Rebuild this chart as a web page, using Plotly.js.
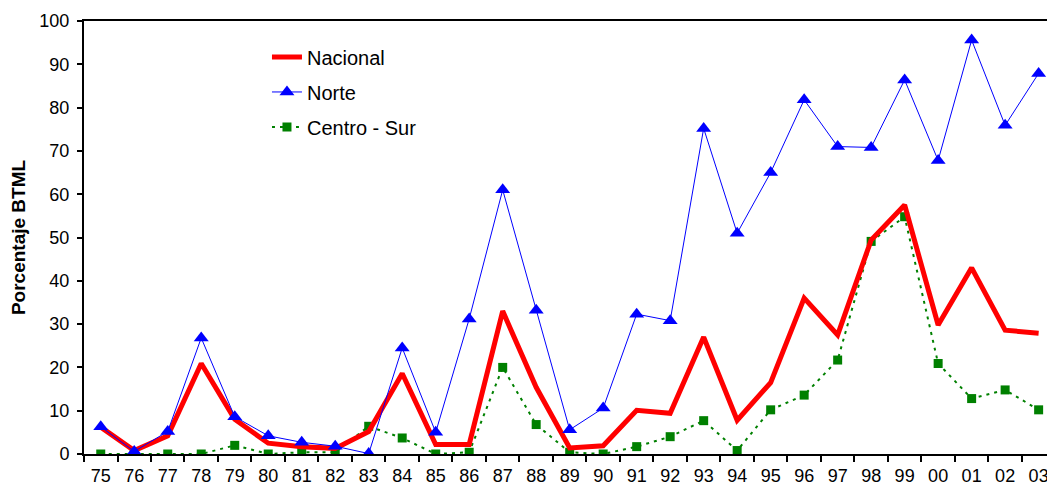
<!DOCTYPE html>
<html>
<head>
<meta charset="utf-8">
<script src="https://cdn.plot.ly/plotly-3.0.1.min.js"></script>
<style>
  html, body { margin: 0; padding: 0; background: #fff; overflow: hidden; }
  #chart { width: 1047px; height: 490px; }
</style>
</head>
<body>
<div id="chart"></div>
<script>
// Years (tick labels)
const years = ["75","76","77","78","79","80","81","82","83","84","85","86","87","88","89",
               "90","91","92","93","94","95","96","97","98","99","00","01","02","03"];

// Percentage BTML per series
const nacional = [6.2, 0.8, 4.2, 20.9, 8.0, 2.5, 1.7, 1.3, 5.2, 18.6, 2.2, 2.2, 33.0, 15.4, 1.4,
                  1.9, 10.1, 9.4, 27.0, 7.8, 16.5, 36.0, 27.5, 49.4, 57.5, 29.8, 43.0, 28.6, 27.9];
const norte = [6.3, 0.6, 5.2, 26.8, 8.6, 4.2, 2.7, 1.8, 0.1, 24.5, 5.0, 31.2, 61.0, 33.2, 5.6,
               10.6, 32.3, 30.8, 75.2, 51.0, 65.0, 81.8, 71.0, 70.8, 86.4, 67.8, 95.6, 75.9, 87.9];
const centroSur = [0, 0, 0, 0, 2.0, 0, 0.4, 0.4, 6.4, 3.7, 0, 0.4, 20.0, 6.8, 0.4,
                   0, 1.7, 4.0, 7.7, 0.8, 10.2, 13.6, 21.7, 49.1, 54.8, 20.9, 12.8, 14.8, 10.2];

const seriesNames = ["Nacional", "Norte", "Centro - Sur"];

const font = "Liberation Sans, Arial, sans-serif";
const n = years.length;
const xr = [-0.5, n - 0.75];
const boundaries = Array.from({length: n}, (_, i) => i - 0.5);
const centers = Array.from({length: n}, (_, i) => i);

const trNacional = {
  x: years, y: nacional, name: seriesNames[0], type: "scatter", mode: "lines",
  line: {color: "#FF0000", width: 5}, legendgroup: "a", legendrank: 1
};
const trNorte = {
  x: years, y: norte, name: seriesNames[1], type: "scatter", mode: "lines+markers",
  line: {color: "#0000FF", width: 1},
  marker: {symbol: "triangle-up", size: 13, color: "#0000FF"}, legendgroup: "b", legendrank: 2
};
const trCentro = {
  x: years, y: centroSur, name: seriesNames[2], type: "scatter", mode: "lines+markers",
  line: {color: "#008000", width: 2, dash: "3px,5px"},
  marker: {symbol: "square", size: 9, color: "#008000"}, legendgroup: "c", legendrank: 3
};
// draw order: Centro-Sur under Nacional under Norte (as in source)
const data = [trCentro, trNacional, trNorte];

const layout = {
  width: 1047, height: 490,
  margin: {l: 84, r: 0, t: 21, b: 36, pad: 0},
  paper_bgcolor: "#fff", plot_bgcolor: "#fff",
  font: {family: font, size: 18, color: "#000"},
  showlegend: true,
  legend: {
    x: 0.19, y: 0.962, xanchor: "left", yanchor: "top",
    bgcolor: "rgba(0,0,0,0)", borderwidth: 0,
    font: {family: font, size: 20, color: "#000"},
    traceorder: "grouped", tracegroupgap: 6
  },
  xaxis: {
    type: "category", categoryorder: "array", categoryarray: years,
    range: xr, tickson: "boundaries",
    showline: true, linecolor: "#000", linewidth: 2, mirror: true,
    ticks: "outside", ticklen: 6, tickwidth: 2, tickcolor: "#000",
    showgrid: false, zeroline: false,
    tickfont: {family: font, size: 18, color: "#000"},
    ticklabelstandoff: 4
  },
  xaxis2: {
    overlaying: "x", anchor: "y", range: xr, type: "linear",
    tickmode: "array", tickvals: boundaries, ticks: "inside", ticklen: 6, tickwidth: 2,
    tickcolor: "#000", showticklabels: false, showgrid: false, zeroline: false, showline: false
  },
  xaxis3: {
    overlaying: "x", anchor: "y", range: xr, type: "linear",
    tickmode: "array", tickvals: centers, ticks: "inside", ticklen: 4, tickwidth: 2,
    tickcolor: "#000", showticklabels: false, showgrid: false, zeroline: false, showline: false
  },
  yaxis: {
    range: [0, 100], dtick: 10, tick0: 0,
    showline: true, linecolor: "#000", linewidth: 2,
    ticks: "outside", ticklen: 5, tickwidth: 2, tickcolor: "#000",
    showgrid: false, zeroline: false,
    tickfont: {family: font, size: 18, color: "#000"},
    ticklabelstandoff: 4,
    title: {text: "<b>Porcentaje BTML</b>", font: {family: font, size: 19, color: "#000"}, standoff: 9}
  },
  yaxis2: {
    overlaying: "y", anchor: "x", side: "left", range: [0, 100], dtick: 2, tick0: 0,
    ticks: "inside", ticklen: 5, tickwidth: 2, tickcolor: "#000",
    showticklabels: false, showgrid: false, zeroline: false, showline: false
  }
};

Plotly.newPlot("chart", data, layout, {displayModeBar: false, staticPlot: true});
</script>
</body>
</html>
